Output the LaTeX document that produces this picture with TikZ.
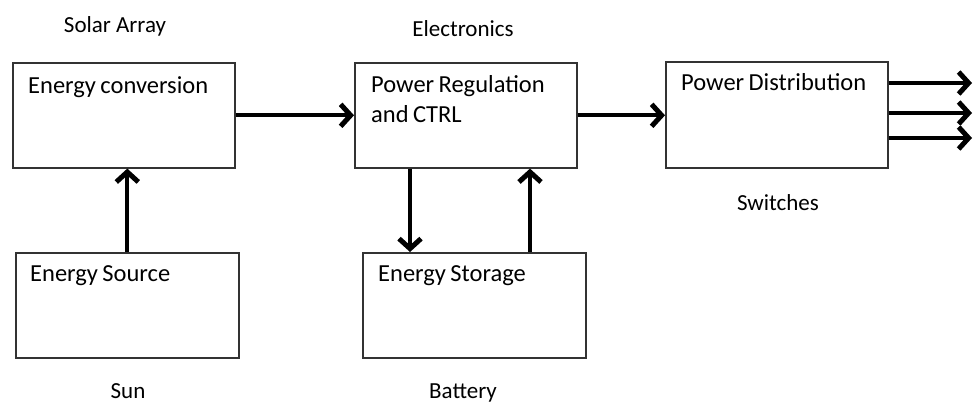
\documentclass[tikz,border=0pt]{standalone}
\usepackage{fontspec}
\setmainfont{Carlito}
\usetikzlibrary{arrows.meta,calc}
\newcommand{\tightspace}{\spaceskip=0.18em plus 0.05em\relax}
\tikzset{
  blockbox/.style={draw={black!80}, line width=1.6pt, rectangle, anchor=north west, inner sep=0pt},
  boxtext/.style={anchor=north west, inner sep=0pt, align=left, font=\fontsize{24.5}{30}\selectfont\tightspace},
  caption/.style={inner sep=0pt, font=\fontsize{23}{26}\selectfont},
  arr/.style={line width=4pt, -{Straight Barb[length=10pt,width=22pt,line width=5pt]}}
}
\begin{document}
\begin{tikzpicture}[x=1pt,y=-1pt]
\useasboundingbox (0,0) rectangle (974,404);
% boxes
\node[blockbox, minimum width=222pt, minimum height=105pt] (conv) at (12,62) {};
\node[blockbox, minimum width=222pt, minimum height=105pt] (reg) at (354,62) {};
\node[blockbox, minimum width=222pt, minimum height=106pt] (dist) at (665,61) {};
\node[blockbox, minimum width=223pt, minimum height=105pt] (src) at (15,252) {};
\node[blockbox, minimum width=223pt, minimum height=105pt] (stor) at (362,252) {};
% box texts
\node[boxtext] (tconv) at (28,76) {Energy conversion};
\node[boxtext] (treg) at (371,75) {Power Regulation\\and CTRL};
\node[boxtext] (tdist) at (681,73) {Power Distribution};
\node[boxtext] (tsrc) at (30,265) {Energy Source};
\node[boxtext] (tstor) at (378,265) {Energy Storage};
% captions
\node[caption] (csolar) at (115,26) {Solar Array};
\node[caption] (celec) at (463,29) {Electronics};
\node[caption] (cswitch) at (778,203) {Switches};
\node[caption] (csun) at (128,391) {Sun};
\node[caption] (cbatt) at (463,393) {Battery};
% connectors
\draw[arr] (src.north) -- (src.north |- conv.south);
\draw[arr] (conv.east) -- (reg.west);
\draw[arr] (reg.east) -- (reg.east -| dist.west);
\coordinate (dn) at ($(reg.south west)+(56,0)$);
\draw[arr] (dn) -- (dn |- stor.north);
\coordinate (up) at ($(stor.north west)+(168,0)$);
\draw[arr] (up) -- (up |- reg.south);
\coordinate (o1) at (972,83);
\coordinate (o2) at (972,113);
\coordinate (o3) at (972,138);
\draw[arr] (o1 -| dist.east) -- (o1);
\draw[arr] (o2 -| dist.east) -- (o2);
\draw[arr] (o3 -| dist.east) -- (o3);
\end{tikzpicture}
\end{document}
